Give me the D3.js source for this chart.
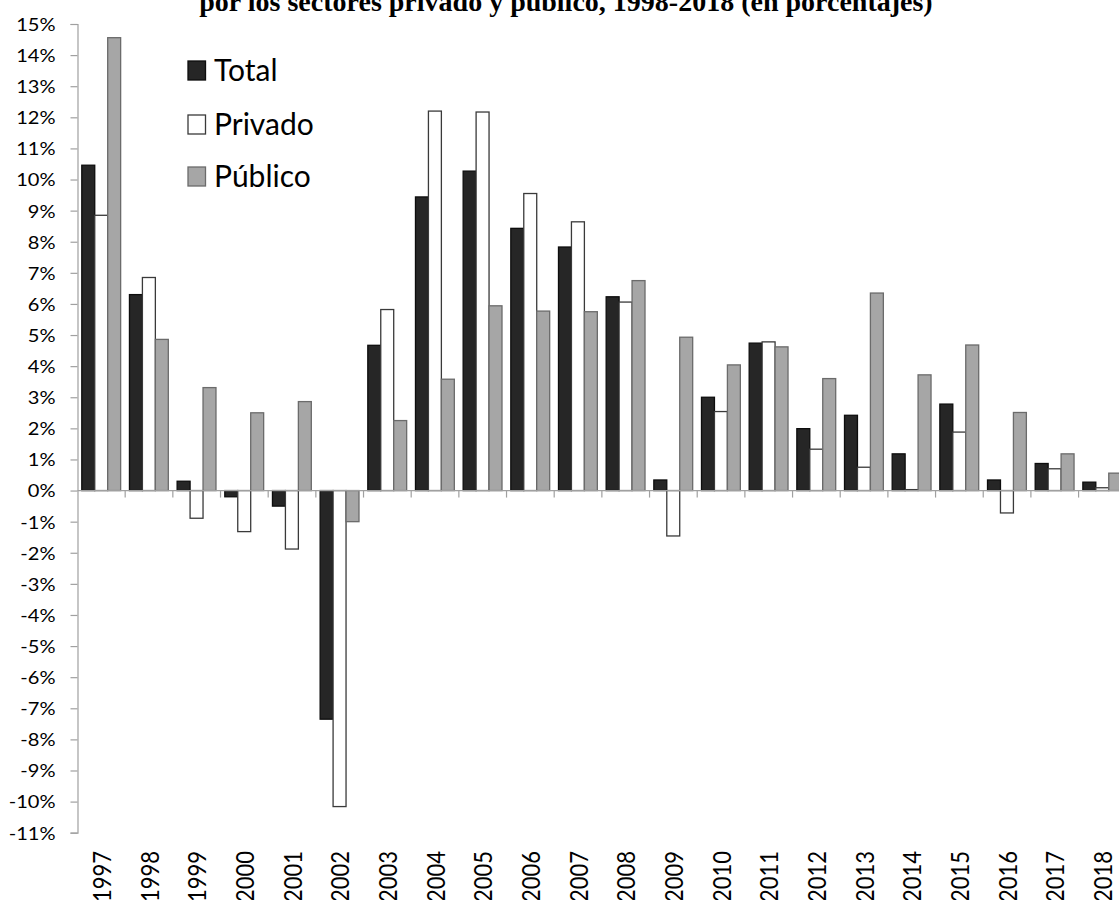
<!DOCTYPE html>
<html>
<head>
<meta charset="utf-8">
<script src="https://cdn.jsdelivr.net/npm/d3@7"></script>
<style>
  html, body { margin: 0; padding: 0; background: #fff; }
  svg { display: block; }
</style>
</head>
<body>
<svg id="chart" width="1119" height="900"></svg>
<script>
const years = ["1997","1998","1999","2000","2001","2002","2003","2004","2005","2006","2007","2008","2009","2010","2011","2012","2013","2014","2015","2016","2017","2018"];
const seriesNames = ["Total", "Privado", "Público"];
const totalValues   = [10.46, 6.30, 0.30, -0.20, -0.50, -7.35, 4.67, 9.44, 10.27, 8.43, 7.83, 6.23, 0.34, 3.00, 4.74, 1.99, 2.42, 1.18, 2.78, 0.34, 0.87, 0.27];
const privadoValues = [8.85, 6.85, -0.89, -1.32, -1.88, -10.16, 5.82, 12.20, 12.17, 9.55, 8.64, 6.06, -1.46, 2.54, 4.78, 1.33, 0.75, 0.03, 1.88, -0.72, 0.70, 0.09];
const publicoValues = [14.56, 4.86, 3.31, 2.50, 2.86, -1.00, 2.25, 3.58, 5.94, 5.77, 5.75, 6.75, 4.93, 4.04, 4.62, 3.60, 6.35, 3.72, 4.68, 2.51, 1.18, 0.56];
const yTicks = d3.range(-11, 16, 1);
const titleText = "por los sectores privado y público, 1998-2018 (en porcentajes)";

(function () {
const values = [totalValues, privadoValues, publicoValues];
const fills = ["#262626", "#ffffff", "#a6a6a6"];
const strokes = ["#0d0d0d", "#3a3a3a", "#6b6b6b"];

const svg = d3.select("#chart");
const mLeft = 77.5, mTop = 24, mBottom = 832.7;
const step = 47.67;
const x0 = d3.scaleBand().domain(years).range([mLeft, mLeft + step * years.length]).paddingInner(0).paddingOuter(0);
const bw = x0.bandwidth();
const x1 = d3.scaleBand().domain(seriesNames).range([bw * 0.09, bw * 0.905]).padding(0);
const y = d3.scaleLinear().domain([-11, 15]).range([mBottom, mTop]);

// Title (partially cut off at top, as in the reference)
svg.append("text")
  .attr("x", 566).attr("y", 11)
  .attr("text-anchor", "middle")
  .attr("font-family", "Liberation Serif, Times New Roman, serif")
  .attr("font-weight", "bold")
  .attr("font-size", 28)
  .attr("fill", "#000")
  .text(titleText);

// Y axis
const yAxis = svg.append("g")
  .attr("transform", `translate(${mLeft},0)`)
  .call(d3.axisLeft(y).tickValues(yTicks).tickSize(7).tickPadding(0).tickFormat(d => d + "%"));
yAxis.select(".domain").attr("stroke", "#a0a0a0").attr("stroke-width", 1.2);
yAxis.selectAll(".tick line").attr("stroke", "#a0a0a0").attr("stroke-width", 1.2);
yAxis.selectAll(".tick text")
  .attr("x", null).attr("dy", null)
  .attr("font-family", "Lato, sans-serif")
  .attr("font-size", 17)
  .attr("fill", "#000")
  .attr("text-anchor", "end")
  .attr("dominant-baseline", "central")
  .attr("transform", "translate(-22,0) scale(1.18,1)");

// Bars
const groups = svg.append("g").selectAll("g")
  .data(years)
  .join("g")
  .attr("transform", d => `translate(${x0(d)},0)`);

groups.selectAll("rect")
  .data((d, i) => seriesNames.map((s, k) => ({ s, k, v: values[k][i] })))
  .join("rect")
  .attr("x", d => x1(d.s))
  .attr("width", x1.bandwidth())
  .attr("y", d => y(Math.max(0, d.v)))
  .attr("height", d => Math.abs(y(d.v) - y(0)))
  .attr("fill", d => fills[d.k])
  .attr("stroke", d => strokes[d.k])
  .attr("stroke-width", 1.3);

// X axis (zero line with ticks at category boundaries)
const xAxis = svg.append("g")
  .attr("transform", `translate(0,${y(0)})`);
xAxis.append("line")
  .attr("x1", mLeft).attr("x2", mLeft + step * years.length)
  .attr("y1", 0).attr("y2", 0)
  .attr("stroke", "#a0a0a0").attr("stroke-width", 1.2);
xAxis.selectAll("line.tk")
  .data(years)
  .join("line")
  .attr("class", "tk")
  .attr("x1", d => x0(d) + bw).attr("x2", d => x0(d) + bw)
  .attr("y1", 0).attr("y2", 7)
  .attr("stroke", "#a0a0a0").attr("stroke-width", 1.2);

// X labels (rotated, at bottom)
svg.append("g").selectAll("text")
  .data(years)
  .join("text")
  .attr("transform", d => `translate(${x0(d) + bw / 2},851) rotate(-90) scale(1,1.15)`)
  .attr("text-anchor", "end")
  .attr("dominant-baseline", "central")
  .attr("font-family", "Lato, sans-serif")
  .attr("font-size", 22)
  .attr("fill", "#000")
  .text(d => d);

// Legend
const legend = svg.append("g");
const legendY = [71, 125, 177];
seriesNames.forEach((s, k) => {
  legend.append("rect")
    .attr("x", 188).attr("y", legendY[k] - 10)
    .attr("width", 17.5).attr("height", 19)
    .attr("fill", fills[k]).attr("stroke", strokes[k]).attr("stroke-width", 1.3);
  legend.append("text")
    .attr("x", 214).attr("y", legendY[k] + 10)
    .attr("font-family", "Lato, sans-serif")
    .attr("font-size", 30)
    .attr("fill", "#000")
    .text(s);
});
})();
</script>
</body>
</html>
